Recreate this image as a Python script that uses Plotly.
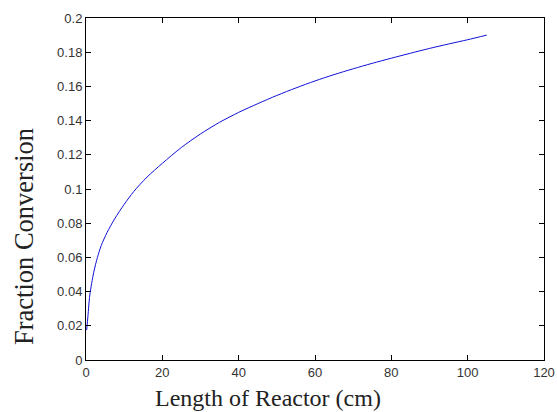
import plotly.graph_objects as go

# Data
length_cm = [0.17, 0.5, 1.0, 2.0, 3.0, 4.0, 5.5, 7.5, 10, 12.5, 16, 20, 25, 30, 35,
             40, 45, 50, 55, 60, 65, 70, 75, 80, 85, 90, 95, 100, 105]
conversion = [0.0175, 0.0255, 0.038, 0.051, 0.060, 0.067, 0.0745, 0.0825, 0.091,
              0.0985, 0.1070, 0.1150, 0.1243, 0.1322, 0.1390, 0.1448, 0.1499,
              0.1547, 0.1591, 0.1632, 0.1669, 0.1703, 0.1735, 0.1765, 0.1794,
              0.1822, 0.1848, 0.1873, 0.1900]

x_ticks = [0, 20, 40, 60, 80, 100, 120]
y_ticks = [0, 0.02, 0.04, 0.06, 0.08, 0.1, 0.12, 0.14, 0.16, 0.18, 0.2]
y_tick_text = ["0", "0.02", "0.04", "0.06", "0.08", "0.1", "0.12", "0.14", "0.16", "0.18", "0.2"]
x_title = "Length of Reactor (cm)"
y_title = "Fraction Conversion"

fig = go.Figure()
fig.add_trace(go.Scatter(
    x=length_cm, y=conversion, mode="lines",
    line=dict(color="#1010d8", width=1, shape="spline", smoothing=0.8),
    showlegend=False, hoverinfo="skip"))

axis_common = dict(
    showline=True, linecolor="black", linewidth=1, mirror="ticks",
    ticks="inside", ticklen=5, tickcolor="black", tickwidth=1,
    showgrid=False, zeroline=False, automargin=False,
    tickfont=dict(family="Liberation Sans, Arial, sans-serif", size=13, color="#333333"),
)

serif = "Liberation Serif, Times New Roman, serif"
fig.update_layout(
    width=557, height=412,
    margin=dict(l=86, r=13, t=18, b=52),
    paper_bgcolor="white", plot_bgcolor="white",
    xaxis=dict(range=[0, 120], tickvals=x_ticks, **axis_common),
    yaxis=dict(range=[0, 0.2], tickvals=y_ticks, ticktext=y_tick_text, **axis_common),
    annotations=[
        dict(text=x_title, xref="paper", yref="paper", x=0.397, y=-0.111,
             xanchor="center", yanchor="middle", showarrow=False,
             font=dict(family=serif, size=24, color="#222222")),
        dict(text=y_title, xref="paper", yref="paper", x=-0.135, y=0.36,
             xanchor="center", yanchor="middle", showarrow=False, textangle=-90,
             font=dict(family=serif, size=26.5, color="#222222")),
    ],
)

fig.write_html("out.html")
